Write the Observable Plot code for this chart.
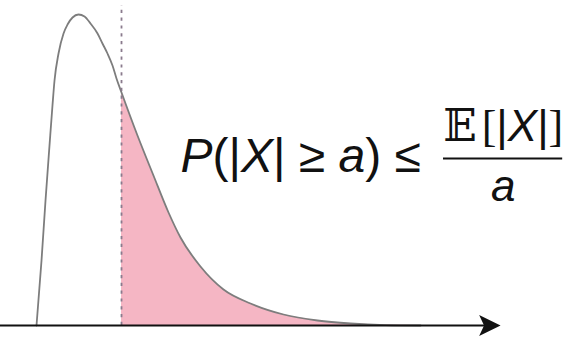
<!DOCTYPE html>
<html><head><meta charset="utf-8">
<script src="https://cdn.jsdelivr.net/npm/d3@7"></script>
<script src="https://cdn.jsdelivr.net/npm/@observablehq/plot@0.6"></script>
<style>html,body{margin:0;padding:0;background:#fff;overflow:hidden}</style>
</head><body><div id="chart"></div>
<script>
// density curve (x in units of a, y in arbitrary density units)
const xs = [0, 0.059, 0.106, 0.153, 0.188, 0.212, 0.259, 0.318, 0.365, 0.424, 0.494, 0.565, 0.635, 0.718, 0.776, 0.835, 0.894, 0.941, 1.0, 1.188, 1.376, 1.553, 1.694, 1.929, 2.2, 2.518, 2.906, 3.306, 3.694, 4.106, 4.518];
const ys = [0, 0.65, 1.25, 1.8, 2.2, 2.45, 2.72, 2.92, 3.01, 3.08, 3.11, 3.09, 3.02, 2.92, 2.82, 2.72, 2.6, 2.47, 2.33, 1.9, 1.5, 1.13, 0.88, 0.59, 0.36, 0.22, 0.11, 0.05, 0.02, 0.004, 0];
const threshold = [1.0];
const formulaLeft = ["P(|X| ≥ a) ≤"];
const numerator = ["𝔼[|X|]"];
const denominator = ["a"];
const italicChars = "PXa";

const curve = xs.map((x, i) => ({x, y: ys[i]}));
const tail = curve.filter(d => d.x >= threshold[0]);

const stealth = {
  draw(ctx, size) {
    const r = Math.sqrt(size / Math.PI);
    ctx.moveTo(r, 0);
    ctx.lineTo(-0.95 * r, -0.95 * r);
    ctx.lineTo(-0.5 * r, 0);
    ctx.lineTo(-0.95 * r, 0.95 * r);
    ctx.closePath();
  }
};

const xmin = -0.4235, xmax = 6.329;
const arrowX = 5.33;

const chart = Plot.plot({
  width: 574, height: 342,
  margin: 0,
  x: {domain: [xmin, xmax], axis: null},
  y: {domain: [-0.17, 3.25], axis: null},
  style: {background: "#fff"},
  marks: [
    Plot.areaY(tail, {x: "x", y: "y", fill: "#f5b6c4", curve: "monotone-x"}),
    Plot.lineY(curve, {x: "x", y: "y", stroke: "#7d7d7d", strokeWidth: 1.8, curve: "monotone-x"}),
    Plot.ruleX(threshold, {y1: 0, y2: 3.2, stroke: "#8a7b8d", strokeWidth: 1.8, strokeDasharray: "3.2,4.6"}),
    Plot.ruleY([0], {x1: xmin, x2: arrowX, stroke: "#111", strokeWidth: 2.2}),
    Plot.dot([{x: arrowX, y: 0}], {x: "x", y: "y", r: 11, symbol: stealth, fill: "#111", stroke: "none"}),
    Plot.text(formulaLeft, {x: 1.694, y: 1.69, text: d => d, textAnchor: "start", fontSize: 48, fontFamily: "Liberation Sans", fill: "#111"}),
    Plot.text(numerator, {x: 5.49, y: 1.99, text: d => d, textAnchor: "middle", fontSize: 44, fontFamily: "Liberation Sans", fill: "#111"}),
    Plot.ruleY([1.67], {x1: 4.788, x2: 6.19, stroke: "#111", strokeWidth: 2}),
    Plot.text(denominator, {x: 5.49, y: 1.39, text: d => d, textAnchor: "middle", fontSize: 44, fontFamily: "Liberation Sans", fill: "#111"})
  ]
});

// italicize math variables
d3.select(chart).selectAll("text").each(function() {
  const t = d3.select(this);
  const s = t.text();
  if (!s) return;
  t.text(null);
  for (const ch of Array.from(s)) {
    const sp = t.append("tspan").text(ch);
    if (italicChars.includes(ch)) sp.attr("font-style", "italic");
    if (ch === "[" || ch === "]") sp.attr("font-family", "Liberation Serif");
    if (ch === "[") sp.attr("dx", 5);
    if (ch === "𝔼") sp.attr("font-family", "DejaVu Serif, DejaVu Sans");
  }
});

document.getElementById("chart").append(chart);
</script>
</body></html>
